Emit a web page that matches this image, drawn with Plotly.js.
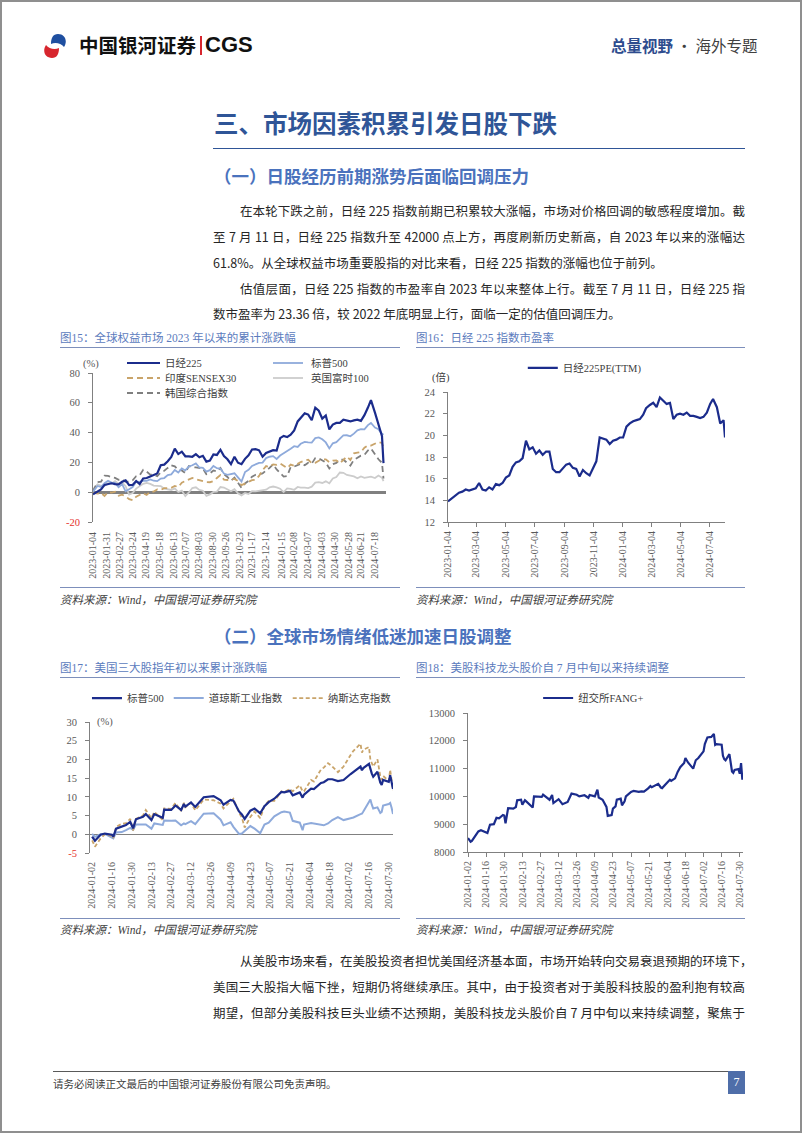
<!DOCTYPE html>
<html lang="zh-CN">
<head>
<meta charset="utf-8">
<title>总量视野 · 海外专题</title>
<script src="https://cdn.plot.ly/plotly-3.0.1.min.js"></script>
<style>
  html, body { margin:0; padding:0; background:#ffffff; }
  #page { position:relative; width:802px; height:1133px; overflow:hidden; background:#fff;
          font-family:"Noto Sans CJK SC","Liberation Sans",sans-serif; color:#262626; }
  .abs { position:absolute; white-space:nowrap; }
  .frame { position:absolute; left:0; top:0; width:798px; height:1129px; border:2px solid #8f8f8f; }
  .hr { position:absolute; height:0; }
  .jl { position:absolute; text-align:justify; text-align-last:justify; white-space:nowrap;
        font-size:12.5px; line-height:26px; height:26px; color:#262626; }
  .ll { position:absolute; white-space:nowrap; font-size:12.5px; line-height:26px; height:26px; color:#262626; }
  .ctitle { position:absolute; font-size:11.5px; line-height:16px; color:#5b7bbd; white-space:nowrap;
            font-family:"Liberation Serif","Noto Sans CJK SC",serif; }
  .src { position:absolute; font-size:11.5px; line-height:16px; color:#404040; font-style:italic; white-space:nowrap;
         font-family:"Liberation Serif","Noto Sans CJK SC",serif; }
  .chart { position:absolute; }
</style>
</head>
<body>
<div id="page">
  <div class="frame"></div>

  <!-- header -->
  <svg class="abs" style="left:43px;top:33px" width="24" height="26" viewBox="0 0 24 26">
    <path d="M15,1 C22,1 25,8 21,14 C18,10 12,9 8,11 C8,5 10,1 15,1Z" fill="#1f4fa0"/>
    <path d="M9,25 C2,25 -1,18 3,12 C6,16 12,17 16,15 C16,21 14,25 9,25Z" fill="#d7262e"/>
  </svg>
  <div class="abs" style="left:79px;top:33px;font-size:19.5px;line-height:24px;font-weight:700;color:#111;">中国银河证券</div>
  <div class="abs" style="left:200px;top:36px;width:2px;height:19px;background:#d7262e;"></div>
  <div class="abs" style="left:205px;top:33px;font-size:22px;line-height:24px;font-weight:700;color:#111;font-family:'Liberation Sans',Arial,sans-serif;">CGS</div>
  <div class="abs" style="left:611px;top:35px;font-size:15.5px;line-height:20px;">
    <span style="font-weight:700;color:#2e4c8e;">总量视野</span><span style="color:#404040;"> · 海外专题</span>
  </div>

  <!-- section title -->
  <div class="abs" style="left:214px;top:108px;font-size:24.5px;line-height:30px;font-weight:700;color:#2f5597;">三、市场因素积累引发日股下跌</div>
  <div class="hr" style="left:213px;top:148px;width:532px;border-top:1px solid #2f5597;"></div>
  <div class="abs" style="left:214px;top:164px;font-size:17.5px;line-height:24px;font-weight:700;color:#4a72bd;">（一）日股经历前期涨势后面临回调压力</div>

  <div class="jl" style="left:240px;top:198px;width:505px;">在本轮下跌之前，日经 225 指数前期已积累较大涨幅，市场对价格回调的敏感程度增加。截</div>
  <div class="jl" style="left:213px;top:224px;width:532px;">至 7 月 11 日，日经 225 指数升至 42000 点上方，再度刷新历史新高，自 2023 年以来的涨幅达</div>
  <div class="ll" style="left:213px;top:250px;">61.8%。从全球权益市场重要股指的对比来看，日经 225 指数的涨幅也位于前列。</div>
  <div class="jl" style="left:240px;top:276px;width:505px;">估值层面，日经 225 指数的市盈率自 2023 年以来整体上行。截至 7 月 11 日，日经 225 指</div>
  <div class="ll" style="left:213px;top:301px;">数市盈率为 23.36 倍，较 2022 年底明显上行，面临一定的估值回调压力。</div>

  <!-- figure 15 / 16 frames -->
  <div class="ctitle" style="left:60px;top:330px;">图15：全球权益市场 2023 年以来的累计涨跌幅</div>
  <div class="ctitle" style="left:416px;top:330px;">图16：日经 225 指数市盈率</div>
  <div class="hr" style="left:60px;top:347px;width:340px;border-top:1.5px solid #7d8fbb;"></div>
  <div class="hr" style="left:416px;top:347px;width:329px;border-top:1.5px solid #7d8fbb;"></div>
  <div id="fig15" class="chart" style="left:55px;top:352px;width:345px;height:233px;"></div>
  <div id="fig16" class="chart" style="left:410px;top:352px;width:340px;height:233px;"></div>
  <div class="hr" style="left:60px;top:587px;width:340px;border-top:1.5px solid #7d8fbb;"></div>
  <div class="hr" style="left:416px;top:587px;width:329px;border-top:1.5px solid #7d8fbb;"></div>
  <div class="src" style="left:60px;top:592px;">资料来源：Wind，中国银河证券研究院</div>
  <div class="src" style="left:416px;top:592px;">资料来源：Wind，中国银河证券研究院</div>

  <div class="abs" style="left:214px;top:624px;font-size:17.5px;line-height:24px;font-weight:700;color:#4a72bd;">（二）全球市场情绪低迷加速日股调整</div>

  <!-- figure 17 / 18 frames -->
  <div class="ctitle" style="left:60px;top:660px;">图17：美国三大股指年初以来累计涨跌幅</div>
  <div class="ctitle" style="left:416px;top:660px;">图18：美股科技龙头股价自 7 月中旬以来持续调整</div>
  <div class="hr" style="left:60px;top:677px;width:340px;border-top:1.5px solid #7d8fbb;"></div>
  <div class="hr" style="left:416px;top:677px;width:329px;border-top:1.5px solid #7d8fbb;"></div>
  <div id="fig17" class="chart" style="left:55px;top:683px;width:345px;height:237px;"></div>
  <div id="fig18" class="chart" style="left:410px;top:683px;width:340px;height:237px;"></div>
  <div class="hr" style="left:60px;top:918px;width:340px;border-top:1.5px solid #7d8fbb;"></div>
  <div class="hr" style="left:416px;top:918px;width:329px;border-top:1.5px solid #7d8fbb;"></div>
  <div class="src" style="left:60px;top:922px;">资料来源：Wind，中国银河证券研究院</div>
  <div class="src" style="left:416px;top:922px;">资料来源：Wind，中国银河证券研究院</div>

  <div class="jl" style="left:240px;top:948px;width:505px;">从美股市场来看，在美股投资者担忧美国经济基本面，市场开始转向交易衰退预期的环境下，</div>
  <div class="jl" style="left:213px;top:974px;width:532px;">美国三大股指大幅下挫，短期仍将继续承压。其中，由于投资者对于美股科技股的盈利抱有较高</div>
  <div class="jl" style="left:213px;top:1000px;width:532px;">期望，但部分美股科技巨头业绩不达预期，美股科技龙头股价自 7 月中旬以来持续调整，聚焦于</div>

  <!-- footer -->
  <div class="hr" style="left:53px;top:1071px;width:675px;border-top:1px solid #595959;"></div>
  <div class="abs" style="left:53px;top:1076px;font-size:10.5px;line-height:16px;color:#404040;">请务必阅读正文最后的中国银河证券股份有限公司免责声明。</div>
  <div class="abs" style="left:728px;top:1071px;width:17px;height:23px;background:#4f6ea9;color:#fff;font-size:12px;line-height:23px;text-align:center;font-family:'Liberation Serif',serif;">7</div>
</div>

<script>
// ======================= DATA =======================
// Weekly sample dates used by figures 15 and 16
const weekDates = ['2023-01-04','2023-01-13','2023-01-20','2023-01-27','2023-02-03','2023-02-10','2023-02-17','2023-02-24','2023-03-03','2023-03-10',
'2023-03-17','2023-03-24','2023-03-31','2023-04-07','2023-04-14','2023-04-21','2023-04-28','2023-05-05','2023-05-12','2023-05-19',
'2023-05-26','2023-06-02','2023-06-09','2023-06-16','2023-06-23','2023-06-30','2023-07-07','2023-07-14','2023-07-21','2023-07-28',
'2023-08-04','2023-08-11','2023-08-18','2023-08-25','2023-09-01','2023-09-08','2023-09-15','2023-09-22','2023-09-29','2023-10-06',
'2023-10-13','2023-10-20','2023-10-27','2023-11-03','2023-11-10','2023-11-17','2023-11-24','2023-12-01','2023-12-08','2023-12-15',
'2023-12-22','2023-12-29','2024-01-05','2024-01-12','2024-01-19','2024-01-26','2024-02-02','2024-02-09','2024-02-16','2024-02-22',
'2024-03-01','2024-03-08','2024-03-15','2024-03-22','2024-03-29','2024-04-05','2024-04-12','2024-04-19','2024-04-26','2024-05-03',
'2024-05-10','2024-05-17','2024-05-24','2024-05-31','2024-06-07','2024-06-14','2024-06-21','2024-06-28','2024-07-05','2024-07-11',
'2024-07-19','2024-07-26','2024-08-02','2024-08-05'];

// Figure 15: cumulative change since 2023 (%)
const names15 = ['日经225','标普500','印度SENSEX30','英国富时100','韩国综合指数'];
const nikkei15 = [-1.4,0.1,1.8,4.9,5.4,6.0,5.4,5.2,7.0,7.9,
4.7,4.9,7.5,5.5,9.2,9.5,10.6,11.7,12.6,18.1,
18.5,20.8,23.6,29.2,25.6,27.2,24.1,24.1,23.8,25.5,
23.4,24.4,20.5,21.2,25.4,25.0,28.5,24.2,22.1,18.8,
23.8,19.8,18.8,22.4,24.8,28.7,28.9,28.1,23.8,26.3,
27.1,28.2,27.9,36.3,37.8,37.0,38.6,41.4,47.5,49.8,
52.9,52.1,48.3,56.7,54.7,49.4,51.5,42.1,45.4,46.5,
46.5,48.6,48.1,47.5,48.2,48.7,47.9,51.7,56.8,61.8,
53.4,46.0,37.6,19.5];
const spx15 = [0.4,4.2,3.5,6.0,7.7,6.5,6.2,3.4,5.4,0.6,
2.0,3.4,7.0,6.9,7.8,7.6,8.6,7.7,7.4,9.2,
9.5,11.5,12.0,14.9,13.2,15.9,14.6,17.3,18.1,19.3,
16.6,16.3,13.8,14.8,17.6,16.1,15.9,12.5,11.7,12.2,
12.7,10.0,7.2,13.5,15.0,17.6,18.7,19.7,19.9,22.9,
23.8,24.2,22.3,24.6,26.1,27.4,29.2,30.9,30.4,32.5,
33.8,33.5,33.3,36.3,36.8,35.5,33.4,29.4,32.8,33.6,
36.0,38.1,38.2,37.5,39.3,41.5,42.3,42.2,45.0,46.5,
43.4,42.2,39.2,38.5];
const sensex15 = [-0.3,-1.0,-0.4,-2.5,0.0,-0.3,0.3,-2.3,-1.7,-2.8,
-4.7,-5.4,-3.0,-1.7,-0.7,-1.9,0.4,0.4,1.9,1.5,
2.7,2.8,2.9,4.2,3.5,6.4,7.3,8.6,9.6,8.7,
8.0,7.4,6.8,6.7,7.5,9.5,11.5,8.5,8.2,8.5,
8.9,7.5,4.8,5.8,6.7,8.1,8.4,10.9,14.8,17.5,
16.9,18.7,18.4,19.3,17.8,16.2,18.5,17.7,19.0,20.2,
21.2,21.8,19.4,19.7,21.1,22.0,22.0,20.1,21.2,21.4,
19.4,21.5,23.9,21.6,26.1,26.5,26.9,29.9,31.5,31.3,
32.5,33.7,33.1,29.5];
const ftse15 = [1.8,5.3,4.3,4.2,6.0,5.8,7.4,5.7,6.6,4.0,
-1.6,-0.6,2.4,3.9,5.6,6.2,5.6,4.4,4.1,4.1,
2.4,2.1,1.5,2.6,0.1,1.1,-2.6,-0.2,2.8,3.3,
1.5,1.0,-2.5,-1.5,0.2,0.4,3.5,3.1,2.1,0.6,
2.0,-0.7,-2.1,-0.5,-1.2,0.7,0.5,1.0,1.4,1.7,
3.3,3.8,3.2,2.3,0.1,2.5,2.2,1.6,3.5,3.1,
3.1,2.8,3.7,6.4,6.7,6.2,7.3,6.0,9.2,10.2,
13.2,13.0,11.6,11.0,10.6,9.3,10.6,9.6,10.1,10.4,
9.5,11.2,9.7,7.5];
const kospi15 = [0.8,6.7,7.1,11.1,10.9,10.4,9.6,8.3,8.7,7.0,
7.1,8.0,10.7,11.3,15.0,13.8,11.8,11.8,10.7,13.4,
14.4,16.3,18.1,17.4,14.9,14.6,12.9,17.5,16.7,16.6,
16.3,15.9,12.0,12.6,14.6,13.9,16.3,12.1,10.2,7.7,
9.8,6.2,2.9,5.9,7.7,10.4,11.7,12.0,12.6,14.6,
16.3,18.7,15.3,12.9,10.5,10.8,16.9,17.2,18.4,19.1,
18.1,19.8,19.2,22.9,22.8,21.4,19.9,15.9,18.8,19.7,
21.9,21.8,20.1,17.9,21.7,23.3,24.5,25.1,28.0,29.3,
25.0,22.1,19.7,9.2];
const xTicks15 = ['2023-01-04','2023-01-31','2023-02-27','2023-03-24','2023-04-19','2023-05-18','2023-06-13','2023-07-07',
'2023-08-03','2023-08-30','2023-09-26','2023-10-23','2023-11-17','2023-12-14','2024-01-15','2024-02-08','2024-03-07',
'2024-04-03','2024-04-30','2024-05-28','2024-06-21','2024-07-18'];
const yTicks15 = [-20,0,20,40,60,80];

// Figure 16: Nikkei 225 PE (TTM)
const name16 = '日经225PE(TTM)';
const pe16 = [13.9,14.2,14.4,14.7,14.8,15.0,14.9,15.0,15.1,15.6,
15.0,14.9,15.2,15.0,15.5,15.4,15.6,16.1,16.3,17.1,
17.5,17.6,17.9,19.5,18.7,18.9,18.3,18.6,18.2,18.5,
18.5,16.9,16.6,16.6,17.0,17.3,17.4,17.0,16.9,16.2,
16.8,16.5,16.3,16.9,17.6,19.8,19.7,19.6,19.2,19.5,
19.6,19.8,19.8,20.8,21.1,21.3,21.4,21.5,21.9,22.5,
22.8,23.0,22.6,23.5,23.2,22.9,23.0,21.5,21.9,22.0,
21.9,22.1,21.8,21.8,21.7,21.6,21.7,22.1,22.9,23.36,
22.6,21.1,21.4,19.8];
const xTicks16 = ['2023-01-04','2023-03-04','2023-05-04','2023-07-04','2023-09-04','2023-11-04','2024-01-04','2024-03-04','2024-05-04','2024-07-04'];
const yTicks16 = [12,14,16,18,20,22,24];

// Figure 17: US indices YTD change (%)
const names17 = ['标普500','道琼斯工业指数','纳斯达克指数'];
const dates17 = ['2024-01-02','2024-01-04','2024-01-08','2024-01-11','2024-01-16','2024-01-17','2024-01-19','2024-01-23','2024-01-26','2024-01-29','2024-01-31',
'2024-02-02','2024-02-07','2024-02-09','2024-02-13','2024-02-15','2024-02-21','2024-02-22','2024-02-27',
'2024-03-01','2024-03-05','2024-03-07','2024-03-08','2024-03-12','2024-03-15','2024-03-21','2024-03-28',
'2024-04-02','2024-04-04','2024-04-09','2024-04-11','2024-04-15','2024-04-17','2024-04-19','2024-04-23','2024-04-26','2024-04-30',
'2024-05-03','2024-05-06','2024-05-10','2024-05-15','2024-05-17','2024-05-21','2024-05-23','2024-05-28','2024-05-30','2024-05-31',
'2024-06-05','2024-06-07','2024-06-12','2024-06-14','2024-06-17','2024-06-20','2024-06-24','2024-06-28',
'2024-07-03','2024-07-05','2024-07-10','2024-07-11','2024-07-12','2024-07-16','2024-07-17','2024-07-18','2024-07-19','2024-07-22','2024-07-24','2024-07-25','2024-07-26','2024-07-30','2024-07-31',
'2024-08-01','2024-08-02'];
const spx17 = [-0.6,-1.7,-0.1,0.2,-0.1,-0.6,1.5,2.0,2.5,3.3,1.6,
4.0,4.7,5.4,3.8,5.4,4.4,6.6,6.5,
7.7,6.5,8.1,7.4,8.5,7.3,9.9,10.2,
9.1,7.9,9.2,9.0,6.1,5.3,4.1,6.3,6.9,5.6,
7.5,8.6,9.5,11.3,11.2,11.6,10.4,11.2,9.8,10.6,
12.2,12.1,13.7,13.9,14.7,14.7,14.2,14.5,
16.1,16.7,18.1,17.1,17.7,18.8,17.2,16.2,15.4,16.7,13.8,13.2,14.5,14.0,15.8,
14.2,12.1];
const dow17 = [0.1,-0.7,0.0,0.1,-0.9,-1.1,0.5,0.6,1.1,1.7,1.2,
2.6,2.6,2.6,1.5,2.9,2.5,3.7,3.6,
3.7,2.4,2.9,2.7,3.5,2.7,5.5,5.6,
3.9,2.4,3.2,2.0,0.1,0.2,0.8,2.2,1.5,0.3,
2.6,3.1,4.8,5.9,6.1,5.8,3.6,3.1,1.1,2.6,
3.0,2.9,2.7,2.4,2.9,3.8,4.6,3.8,
4.3,4.5,5.4,5.5,6.1,8.7,9.3,7.9,6.9,7.2,5.7,6.0,7.7,8.1,8.4,
7.1,5.4];
const nasdaq17 = [-1.6,-3.3,-1.1,0.0,-0.4,-1.0,2.0,2.8,3.0,4.1,1.0,
4.1,5.0,6.5,4.3,6.0,3.8,6.9,6.8,
8.4,6.2,8.4,7.2,8.4,6.4,9.3,9.1,
8.2,6.9,8.6,9.5,5.8,4.5,1.8,4.6,6.1,4.3,
7.6,8.9,8.9,11.5,11.2,12.1,11.5,13.1,11.5,11.5,
14.5,14.1,17.3,17.8,19.0,18.1,16.6,18.1,
21.2,22.3,24.2,21.8,22.6,23.3,19.9,19.1,18.1,20.0,15.5,14.5,15.6,14.2,17.2,
14.5,11.8];
const xTicks1718 = ['2024-01-02','2024-01-16','2024-01-30','2024-02-13','2024-02-27','2024-03-12','2024-03-26','2024-04-09',
'2024-04-23','2024-05-07','2024-05-21','2024-06-04','2024-06-18','2024-07-02','2024-07-16','2024-07-30'];
const yTicks17 = [-5,0,5,10,15,20,25,30];

// Figure 18: NYSE FANG+
const name18 = '纽交所FANG+';
const dates18 = ['2024-01-02','2024-01-04','2024-01-05','2024-01-08','2024-01-10','2024-01-12','2024-01-16','2024-01-17','2024-01-19','2024-01-22',
'2024-01-24','2024-01-26','2024-01-29','2024-01-30','2024-01-31','2024-02-01','2024-02-02','2024-02-06','2024-02-08','2024-02-09',
'2024-02-12','2024-02-13','2024-02-15','2024-02-16','2024-02-20','2024-02-21','2024-02-22','2024-02-26','2024-02-28','2024-02-29',
'2024-03-01','2024-03-05','2024-03-07','2024-03-08','2024-03-12','2024-03-14','2024-03-15','2024-03-19','2024-03-21','2024-03-22',
'2024-03-26','2024-03-28','2024-04-01','2024-04-04','2024-04-05','2024-04-09','2024-04-11','2024-04-12','2024-04-15','2024-04-17',
'2024-04-18','2024-04-19','2024-04-22','2024-04-23','2024-04-25','2024-04-26','2024-04-29','2024-04-30','2024-05-02','2024-05-03',
'2024-05-07','2024-05-09','2024-05-13','2024-05-15','2024-05-17','2024-05-20','2024-05-22','2024-05-23','2024-05-28','2024-05-30',
'2024-05-31','2024-06-04','2024-06-06','2024-06-07','2024-06-10','2024-06-12','2024-06-14','2024-06-17','2024-06-18','2024-06-20',
'2024-06-24','2024-06-26','2024-06-28','2024-07-02','2024-07-03','2024-07-05','2024-07-08','2024-07-10','2024-07-11','2024-07-12',
'2024-07-15','2024-07-16','2024-07-17','2024-07-18','2024-07-19','2024-07-22','2024-07-24','2024-07-25','2024-07-26','2024-07-29',
'2024-07-30','2024-07-31','2024-08-01'];
const fang18 = [8500,8370,8400,8620,8740,8780,8720,8680,8980,9000,
9230,9210,9330,9310,9030,9300,9580,9560,9620,9860,
9880,9700,9860,9820,9660,9600,10000,9990,9980,10060,
10030,9880,10050,9760,9900,9760,9720,9800,10050,10100,
10060,10000,10040,9950,10050,10000,10240,9960,9880,9720,
9620,9300,9330,9560,9640,9880,9920,9680,9820,10000,
10160,10200,10160,10180,10170,10280,10370,10330,10450,10320,
10300,10500,10600,10560,10650,10880,11050,11200,11380,11220,
11000,11300,11380,11620,11880,12120,12140,12250,11850,11880,
11850,11860,11460,11340,11300,11520,10900,10850,10950,10980,
10820,11200,10600];
const yTicks18 = [8000,9000,10000,11000,12000,13000];

// ======================= STYLE =======================
const SERIF = 'Liberation Serif, Noto Sans CJK SC, serif';
const NAVY = '#1b2c8c', LIGHTBLUE = '#8eaadb', TAN = '#c9a46a', DGREY = '#7f7f7f', LGREY = '#cccccc';
const tickFont = {family: SERIF, size: 10.5, color: '#595959'};
const dateFont = {family: SERIF, size: 10, color: '#595959'};
const legFont = {family: SERIF, size: 10.5, color: '#404040'};
const redNeg = v => v < 0 ? '<span style="color:#e5322d">' + v + '</span>' : String(v);
const cfg = {staticPlot: true, displayModeBar: false};
const baseLayout = {paper_bgcolor: 'rgba(0,0,0,0)', plot_bgcolor: 'rgba(0,0,0,0)', font: {family: SERIF, size: 10.5, color: '#595959'}};

function yAxis(range, vals, extra) {
  return Object.assign({range: range, tickvals: vals, ticktext: vals.map(redNeg), showgrid: false, zeroline: false,
    showline: true, linecolor: '#808080', linewidth: 1, ticks: 'outside', ticklen: 4, tickcolor: '#808080',
    ticklabelstandoff: 6, tickfont: tickFont, fixedrange: true}, extra || {});
}
function xAxis(range, vals, extra) {
  return Object.assign({type: 'date', range: range, tickvals: vals, ticktext: vals, tickangle: -90, showgrid: false,
    zeroline: false, showline: false, ticks: 'outside', ticklen: 4, tickcolor: '#808080', tickfont: dateFont,
    fixedrange: true}, extra || {});
}

// ---------- Figure 15 ----------
(function () {
  const series = [ftse15, kospi15, sensex15, spx15, nikkei15];
  const idx = [3, 4, 2, 1, 0];
  const styles = {0: {color: NAVY, width: 2.2, dash: 'solid'}, 1: {color: LIGHTBLUE, width: 1.8, dash: 'solid'},
                  2: {color: TAN, width: 1.8, dash: '6px,4px'}, 3: {color: LGREY, width: 1.8, dash: 'solid'},
                  4: {color: DGREY, width: 1.8, dash: '6px,4px'}};
  const traces = series.map((ys, k) => ({type: 'scatter', mode: 'lines', x: weekDates, y: ys, name: names15[idx[k]],
    line: styles[idx[k]], hoverinfo: 'skip'}));
  // manual 2-column legend (plot area: x 93..386, y 373..522 in page px)
  const L = 93, W = 293, B = 522, H = 149;
  const cols = [[127, 160, 163], [273, 303, 309]];
  const rows = [363, 378, 393];
  const place = [[0, 0], [1, 0], [0, 1], [1, 1], [0, 2]];
  const shapes = [], annotations = [];
  place.forEach((p, i) => {
    const c = cols[p[0]], yy = (B - rows[p[1]]) / H;
    shapes.push({type: 'line', xref: 'paper', yref: 'paper', x0: (c[0] - L) / W, x1: (c[1] - L) / W, y0: yy, y1: yy,
      line: styles[i]});
    annotations.push({xref: 'paper', yref: 'paper', x: (c[2] - L) / W, y: yy, xanchor: 'left', yanchor: 'middle',
      text: names15[i], showarrow: false, font: legFont});
  });
  annotations.push({xref: 'paper', yref: 'paper', x: (91 - L) / W, y: (B - 364) / H, xanchor: 'center', yanchor: 'middle',
    text: '(%)', showarrow: false, font: tickFont});
  const layout = Object.assign({}, baseLayout, {
    width: 345, height: 233, margin: {l: 38, r: 14, t: 21, b: 63, pad: 0, autoexpand: false}, showlegend: false,
    xaxis: xAxis(['2023-01-04', '2024-08-10'], xTicks15, {tickcolor: 'rgba(0,0,0,0)', ticklen: 5}),
    yaxis: yAxis([-20, 80], yTicks15, {zeroline: true, zerolinecolor: '#808080', zerolinewidth: 3}),
    shapes: shapes, annotations: annotations
  });
  Plotly.newPlot('fig15', traces, layout, cfg);
})();

// ---------- Figure 16 ----------
(function () {
  const traces = [{type: 'scatter', mode: 'lines', x: weekDates, y: pe16, name: name16,
    line: {color: NAVY, width: 2.2}, hoverinfo: 'skip'}];
  const layout = Object.assign({}, baseLayout, {
    width: 340, height: 233, margin: {l: 38, r: 25, t: 40, b: 63, pad: 0, autoexpand: false},
    showlegend: true,
    legend: {orientation: 'h', x: 0.27, xanchor: 'left', y: 1.185, yanchor: 'middle', font: legFont,
      bgcolor: 'rgba(0,0,0,0)', borderwidth: 0},
    xaxis: xAxis(['2023-01-04', '2024-08-05'], xTicks16, {showline: true, linecolor: '#808080'}),
    yaxis: yAxis([12, 24], yTicks16),
    annotations: [{xref: 'paper', yref: 'paper', x: -0.025, y: 1.115, xanchor: 'center', yanchor: 'middle',
      text: '(倍)', showarrow: false, font: legFont}]
  });
  Plotly.newPlot('fig16', traces, layout, cfg);
})();

// ---------- Figure 17 ----------
(function () {
  const traces = [
    {type: 'scatter', mode: 'lines', x: dates17, y: spx17, name: names17[0], line: {color: NAVY, width: 2.2}, hoverinfo: 'skip', legendrank: 1},
    {type: 'scatter', mode: 'lines', x: dates17, y: dow17, name: names17[1], line: {color: LIGHTBLUE, width: 2}, hoverinfo: 'skip', legendrank: 2},
    {type: 'scatter', mode: 'lines', x: dates17, y: nasdaq17, name: names17[2], line: {color: TAN, width: 1.8, dash: '4px,2.5px'}, hoverinfo: 'skip', legendrank: 3}
  ];
  // draw order: dow under, then nasdaq, then s&p on top
  const ordered = [traces[1], traces[2], traces[0]];
  const layout = Object.assign({}, baseLayout, {
    width: 345, height: 237, margin: {l: 35, r: 7, t: 39, b: 67, pad: 0, autoexpand: false},
    showlegend: true,
    legend: {orientation: 'h', x: -0.01, xanchor: 'left', y: 1.183, yanchor: 'middle', font: legFont,
      bgcolor: 'rgba(0,0,0,0)', borderwidth: 0, traceorder: 'normal'},
    xaxis: xAxis(['2023-12-31 12:00', '2024-08-02'], xTicks1718, {tickcolor: 'rgba(0,0,0,0)', ticklen: 4}),
    yaxis: yAxis([-5, 30], yTicks17, {zeroline: true, zerolinecolor: '#808080', zerolinewidth: 1}),
    annotations: [{xref: 'paper', yref: 'paper', x: 0.048, y: 1.0, xanchor: 'center', yanchor: 'middle',
      text: '(%)', showarrow: false, font: tickFont}]
  });
  Plotly.newPlot('fig17', ordered, layout, cfg);
})();

// ---------- Figure 18 ----------
(function () {
  const traces = [{type: 'scatter', mode: 'lines', x: dates18, y: fang18, name: name18,
    line: {color: NAVY, width: 2.2}, hoverinfo: 'skip'}];
  const layout = Object.assign({}, baseLayout, {
    width: 340, height: 237, margin: {l: 58, r: 7, t: 30, b: 68, pad: 0, autoexpand: false},
    showlegend: true,
    legend: {orientation: 'h', x: 0.255, xanchor: 'left', y: 1.108, yanchor: 'middle', font: legFont,
      bgcolor: 'rgba(0,0,0,0)', borderwidth: 0},
    xaxis: xAxis(['2024-01-02', '2024-08-01 12:00'], xTicks1718, {showline: true, linecolor: '#808080'}),
    yaxis: yAxis([8000, 13000], yTicks18, {tickformat: 'd'})
  });
  Plotly.newPlot('fig18', traces, layout, cfg);
})();
</script>
</body>
</html>
